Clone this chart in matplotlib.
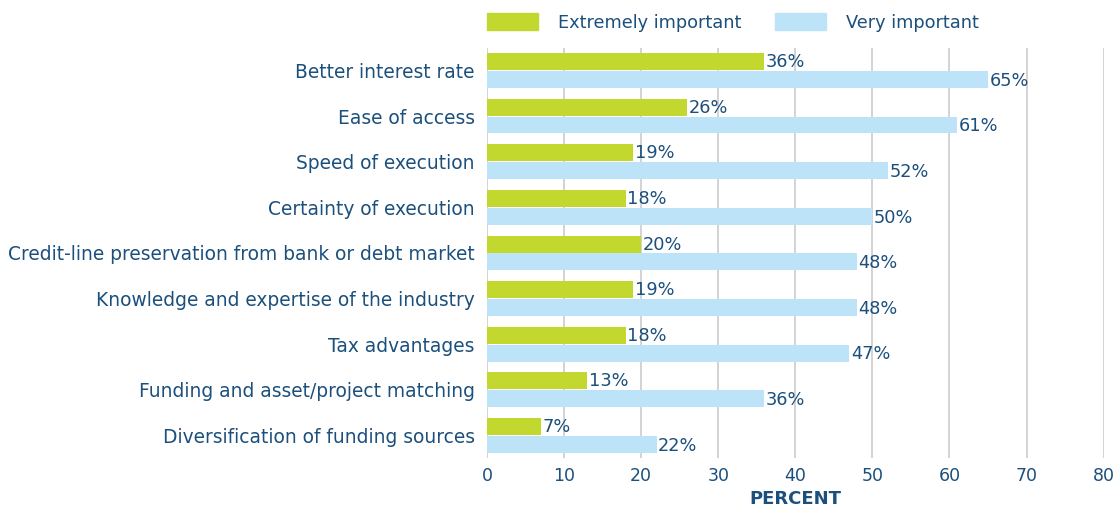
import numpy as np
import matplotlib.pyplot as plt
from matplotlib.patches import Patch

# Datos
categorias = ["Better interest rate", "Ease of access", "Speed of execution",
              "Certainty of execution", "Credit-line preservation from bank or debt market",
              "Knowledge and expertise of the industry", "Tax advantages",
              "Funding and asset/project matching", "Diversification of funding sources"]
extremo = [36, 26, 19, 18, 20, 19, 18, 13, 7]
muy = [65, 61, 52, 50, 48, 48, 47, 36, 22]
ticks_x = [0, 10, 20, 30, 40, 50, 60, 70, 80]

verde = "#c3d82f"
celeste = "#bce3f7"
azul = "#1b4f7c"
gris = "#cccccc"

plt.rcParams['font.family'] = ['DejaVu Sans']

fig = plt.figure(figsize=(11.17, 5.08), dpi=100)
ax = fig.add_axes([0.436, 0.098, 0.552, 0.808])

y = np.arange(len(categorias))
alto = 0.37
ax.barh(y - alto / 2 - 0.01, extremo, height=alto, color=verde, zorder=3)
ax.barh(y + alto / 2 + 0.01, muy, height=alto, color=celeste, zorder=3)

# Etiquetas de valor
for i in range(len(categorias)):
    ax.text(extremo[i] + 0.2, y[i] - alto / 2, f"{extremo[i]}%", va="center", ha="left",
            color=azul, fontsize=12.8, zorder=4)
    ax.text(muy[i] + 0.2, y[i] + alto / 2 + 0.04, f"{muy[i]}%", va="center", ha="left",
            color=azul, fontsize=12.8, zorder=4)

ax.set_xlim(0, 80)
ax.set_ylim(8.5, -0.5)
ax.set_xticks(ticks_x)
ax.set_xticklabels([str(t) for t in ticks_x], color=azul, fontsize=12.5)
ax.set_yticks(y)
ax.set_yticklabels(categorias, color=azul, fontsize=13.4)
ax.tick_params(axis="both", length=0, pad=9)
ax.tick_params(axis="x", pad=6)
ax.grid(axis="x", color=gris, linewidth=1.2, zorder=0)
for s in ax.spines.values():
    s.set_visible(False)

ax.set_xlabel("PERCENT", color=azul, fontsize=13, fontweight="bold", labelpad=4)

# Leyenda
handles = [Patch(color=verde, label="Extremely important"),
           Patch(color=celeste, label="Very important")]
fig.legend(handles=handles, loc="center left", bbox_to_anchor=(0.436, 0.956), ncol=2,
           frameon=False, fontsize=12.8, handlelength=2.85, handleheight=1.1,
           handletextpad=1.15, columnspacing=1.9, labelcolor=azul,
           borderpad=0, borderaxespad=0)

fig.savefig("out.png", dpi=100)
